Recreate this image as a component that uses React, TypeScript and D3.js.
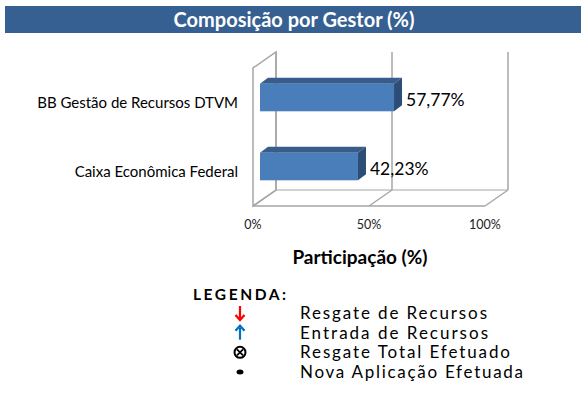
import { useRef, useEffect } from 'react';
import * as d3 from 'd3';

const categories = ['BB Gestão de Recursos DTVM', 'Caixa Econômica Federal'];
const values = [57.77, 42.23];
const tickValues = [0, 50, 100];
const legendLabels = ['Resgate de Recursos', 'Entrada de Recursos', 'Resgate Total Efetuado', 'Nova Aplicação Efetuada'];
const legendSymbols = ['down', 'up', 'otimes', 'dot'];

const fmt = (v: number) => v.toFixed(2).replace('.', ',') + '%';

export default function App() {
  const ref = useRef<SVGSVGElement>(null);

  useEffect(() => {
    if (!ref.current) return;
    const W = 581;
    const H = 406;
    const font = 'Lato, "Open Sans", sans-serif';
    const wallColor = '#a6a6a6';

    const svg = d3.select(ref.current);
    svg.selectAll('*').remove();

    // title bar
    svg.append('rect').attr('x', 5).attr('y', 6).attr('width', W - 5).attr('height', 27).attr('fill', '#366092');
    svg.append('text')
      .attr('x', 294).attr('y', 20).attr('dy', '0.35em')
      .attr('text-anchor', 'middle')
      .style('font-family', font).style('font-size', '20px').style('font-weight', '700')
      .attr('fill', '#fff')
      .text('Composição por Gestor (%)');

    // 3D plot
    const x = d3.scaleLinear().domain([0, 100]).range([253, 485]);
    const y = d3.scaleBand().domain(categories).range([68, 206]).paddingInner(0.6).paddingOuter(0.3);
    const depth = { dx: 23, dy: -16 };
    const barOff = { dx: 7, dy: -5 };
    const barDepth = { dx: 8, dy: -6 };
    const top = 68;
    const bottom = 206;

    const walls = svg.append('g').attr('fill', 'none').attr('stroke', wallColor).attr('stroke-width', 1.5);
    walls.append('path').attr('d', `M${x(0)},${bottom}V${top}l${depth.dx},${depth.dy}V${bottom + depth.dy}Z`);
    walls.append('line').attr('x1', x(0)).attr('x2', x(100)).attr('y1', bottom).attr('y2', bottom);
    walls.append('line').attr('x1', x(0) + depth.dx).attr('x2', x(100) + depth.dx)
      .attr('y1', bottom + depth.dy).attr('y2', bottom + depth.dy).attr('stroke-width', 1);
    tickValues.forEach((t) => {
      walls.append('line')
        .attr('x1', x(t)).attr('y1', bottom)
        .attr('x2', x(t) + depth.dx).attr('y2', bottom + depth.dy);
      walls.append('line')
        .attr('x1', x(t) + depth.dx).attr('y1', bottom + depth.dy)
        .attr('x2', x(t) + depth.dx).attr('y2', top + depth.dy);
    });

    // bars
    categories.forEach((c, i) => {
      const x0 = x(0) + barOff.dx;
      const x1 = x(values[i]) + barOff.dx;
      const y0 = (y(c) as number) + barOff.dy;
      const y1 = y0 + y.bandwidth();
      const g = svg.append('g');
      g.append('path')
        .attr('d', `M${x0},${y0}l${barDepth.dx},${barDepth.dy}H${x1 + barDepth.dx}l${-barDepth.dx},${-barDepth.dy}Z`)
        .attr('fill', '#385d8a');
      g.append('path')
        .attr('d', `M${x1},${y0}l${barDepth.dx},${barDepth.dy}V${y1 + barDepth.dy}l${-barDepth.dx},${-barDepth.dy}Z`)
        .attr('fill', '#2c4d75');
      g.append('rect')
        .attr('x', x0).attr('y', y0).attr('width', x1 - x0).attr('height', y1 - y0)
        .attr('fill', '#4a7ebb');
      g.append('text')
        .attr('x', x1 + barDepth.dx + 4).attr('y', y0 + y.bandwidth() / 2 + 2).attr('dy', '0.35em')
        .style('font-family', font).style('font-size', '17.5px')
        .attr('fill', '#000')
        .text(fmt(values[i]));
      svg.append('text')
        .attr('x', 238).attr('y', (y(c) as number) + y.bandwidth() / 2).attr('dy', '0.35em')
        .attr('text-anchor', 'end')
        .style('font-family', font).style('font-size', '15px')
        .attr('fill', '#000')
        .text(c);
    });

    // x tick labels
    tickValues.forEach((t) => {
      svg.append('text')
        .attr('x', x(t)).attr('y', 225).attr('dy', '0.35em')
        .attr('text-anchor', 'middle')
        .style('font-family', font).style('font-size', '12.5px')
        .attr('fill', '#222')
        .text(`${t}%`);
    });

    svg.append('text')
      .attr('x', 360).attr('y', 257).attr('dy', '0.35em')
      .attr('text-anchor', 'middle')
      .style('font-family', font).style('font-size', '19px').style('font-weight', '700')
      .attr('fill', '#000')
      .text('Participação (%)');

    // legend
    svg.append('text')
      .attr('x', 193).attr('y', 295).attr('dy', '0.35em')
      .attr('textLength', 93).attr('lengthAdjust', 'spacing')
      .style('font-family', font).style('font-size', '15.5px').style('font-weight', '700')
      .attr('fill', '#000')
      .text('LEGENDA:');

    const legendWidths = [187, 188, 210, 223];
    const ly = d3.scalePoint().domain(legendLabels).range([313, 372]);
    legendLabels.forEach((lab, i) => {
      const cy = ly(lab) as number;
      const sx = 240;
      const kind = legendSymbols[i];
      if (kind === 'down' || kind === 'up') {
        const color = kind === 'down' ? '#ff0000' : '#0070c0';
        const s = kind === 'down' ? 1 : -1;
        svg.append('line')
          .attr('x1', sx).attr('x2', sx).attr('y1', cy - 7 * s).attr('y2', cy + 5 * s)
          .attr('stroke', color).attr('stroke-width', 2.2);
        svg.append('path')
          .attr('d', `M${sx - 4.5},${cy + 2 * s}L${sx},${cy + 7 * s}L${sx + 4.5},${cy + 2 * s}`)
          .attr('fill', 'none').attr('stroke', color).attr('stroke-width', 2.2);
      } else if (kind === 'otimes') {
        svg.append('circle').attr('cx', sx).attr('cy', cy).attr('r', 5.5)
          .attr('fill', 'none').attr('stroke', '#000').attr('stroke-width', 2);
        svg.append('path')
          .attr('d', `M${sx - 3},${cy - 3}L${sx + 3},${cy + 3}M${sx + 3},${cy - 3}L${sx - 3},${cy + 3}`)
          .attr('stroke', '#000').attr('stroke-width', 1.8);
      } else {
        svg.append('ellipse').attr('cx', sx).attr('cy', cy).attr('rx', 3.5).attr('ry', 2.5).attr('fill', '#000');
      }
      svg.append('text')
        .attr('x', 300).attr('y', cy).attr('dy', '0.35em')
        .attr('textLength', legendWidths[i]).attr('lengthAdjust', 'spacing')
        .style('font-family', font).style('font-size', '17px')
        .attr('fill', '#000')
        .text(lab);
    });

    svg.attr('width', W).attr('height', H);
  }, []);

  return (
    <svg
      ref={ref}
      width={581}
      height={406}
      style={{ position: 'absolute', left: 0, top: 0, background: '#fff' }}
    />
  );
}
